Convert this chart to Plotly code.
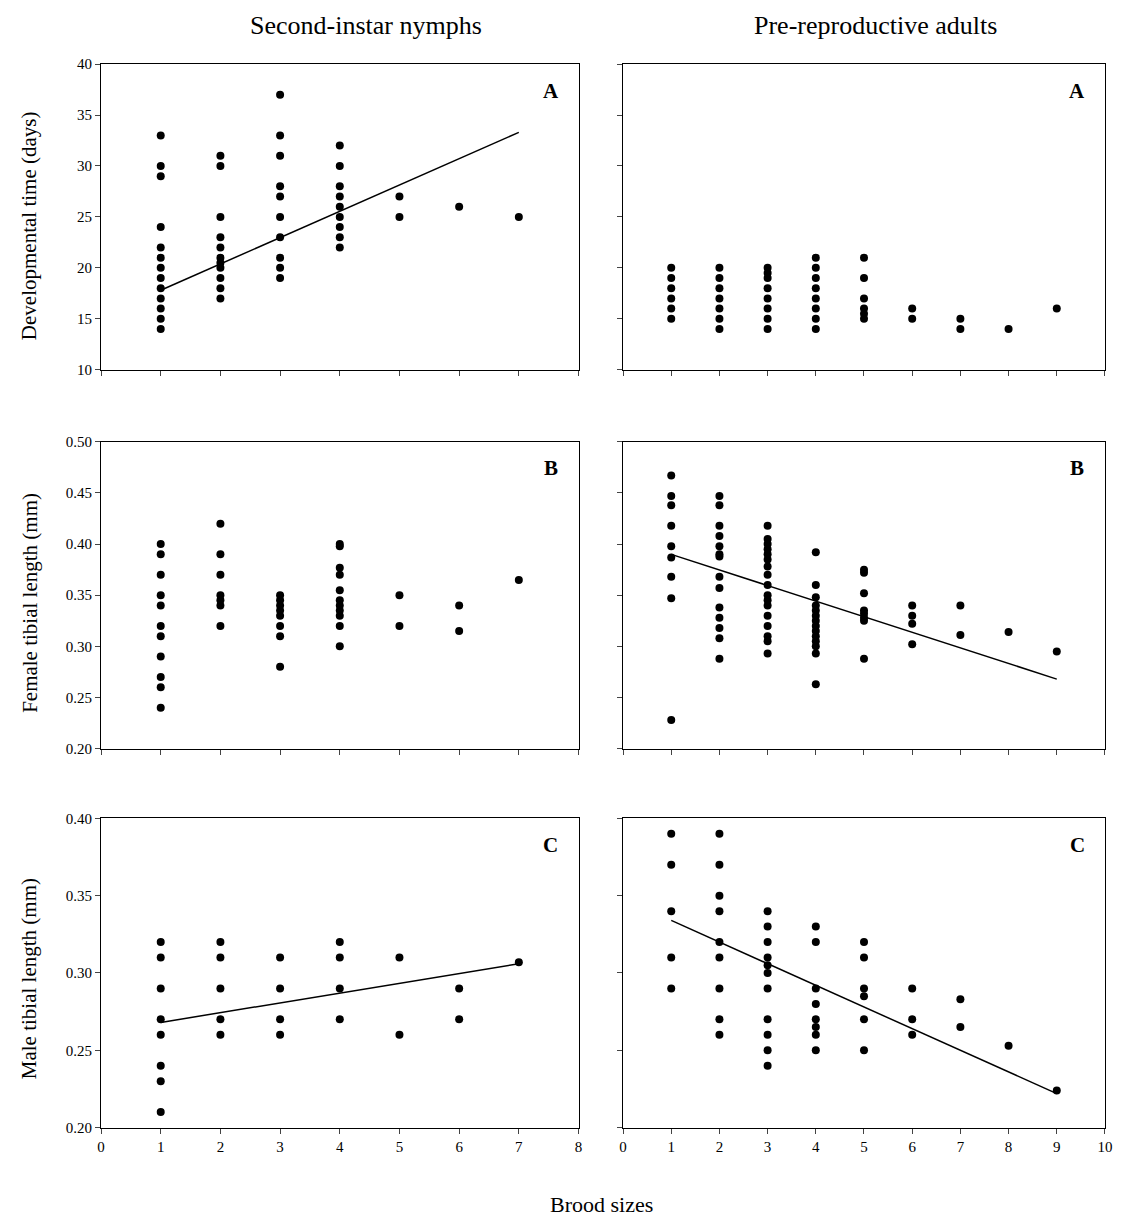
import plotly.graph_objects as go
from plotly.subplots import make_subplots

# ---- data ----
nA_x = [1]*13 + [2]*11 + [3]*10 + [4]*9 + [5]*2 + [6] + [7]
nA_y = [33,30,29,24,22,21,20,19,18,17,16,15,14,
        31,30,25,23,22,21,20.5,20,19,18,17,
        37,33,31,28,27,25,23,21,20,19,
        32,30,28,27,26,25,24,23,22,
        27,25, 26, 25]
aA_x = [1]*6 + [2]*7 + [3]*8 + [4]*8 + [5]*6 + [6]*2 + [7]*2 + [8] + [9]
aA_y = [20,19,18,17,16,15,
        20,19,18,17,16,15,14,
        20,19.5,19,18,17,16,15,14,
        21,20,19,18,17,16,15,14,
        21,19,17,16,15.5,15,
        16,15, 15,14, 14, 16]
nB_x = [1]*11 + [2]*7 + [3]*8 + [4]*11 + [5]*2 + [6]*2 + [7]
nB_y = [0.40,0.39,0.37,0.35,0.34,0.32,0.31,0.29,0.27,0.26,0.24,
        0.42,0.39,0.37,0.35,0.345,0.34,0.32,
        0.35,0.345,0.34,0.335,0.33,0.32,0.31,0.28,
        0.40,0.398,0.377,0.37,0.355,0.345,0.34,0.335,0.33,0.32,0.30,
        0.35,0.32, 0.34,0.315, 0.365]
aB_x = [1]*9 + [2]*14 + [3]*17 + [4]*14 + [5]*8 + [6]*4 + [7]*2 + [8] + [9]
aB_y = [0.467,0.447,0.438,0.418,0.398,0.387,0.368,0.347,0.228,
        0.447,0.438,0.418,0.408,0.398,0.39,0.388,0.368,0.357,0.338,0.328,0.318,0.308,0.288,
        0.418,0.405,0.40,0.395,0.39,0.385,0.378,0.37,0.36,0.35,0.345,0.34,0.33,0.32,0.31,0.305,0.293,
        0.392,0.36,0.348,0.34,0.335,0.33,0.325,0.32,0.315,0.31,0.305,0.30,0.293,0.263,
        0.375,0.372,0.352,0.335,0.332,0.328,0.325,0.288,
        0.34,0.33,0.322,0.302, 0.34,0.311, 0.314, 0.295]
nC_x = [1]*8 + [2]*5 + [3]*4 + [4]*4 + [5]*2 + [6]*2 + [7]
nC_y = [0.32,0.31,0.29,0.27,0.26,0.24,0.23,0.21,
        0.32,0.31,0.29,0.27,0.26,
        0.31,0.29,0.27,0.26,
        0.32,0.31,0.29,0.27,
        0.31,0.26, 0.29,0.27, 0.307]
aC_x = [1]*5 + [2]*9 + [3]*11 + [4]*8 + [5]*6 + [6]*3 + [7]*2 + [8] + [9]
aC_y = [0.39,0.37,0.34,0.31,0.29,
        0.39,0.37,0.35,0.34,0.32,0.31,0.29,0.27,0.26,
        0.34,0.33,0.32,0.31,0.305,0.30,0.29,0.27,0.26,0.25,0.24,
        0.33,0.32,0.29,0.28,0.27,0.265,0.26,0.25,
        0.32,0.31,0.29,0.285,0.27,0.25,
        0.29,0.27,0.26, 0.283,0.265, 0.253, 0.224]
# regression lines (end points)
nA_line = ([1, 7], [17.8, 33.3])
aB_line = ([1, 9], [0.390, 0.268])
nC_line = ([1, 7], [0.268, 0.306])
aC_line = ([1, 9], [0.334, 0.222])

FONT = "Liberation Serif"
fig = make_subplots(rows=3, cols=2)

panels = [
    (1, 1, nA_x, nA_y, nA_line), (1, 2, aA_x, aA_y, None),
    (2, 1, nB_x, nB_y, None), (2, 2, aB_x, aB_y, aB_line),
    (3, 1, nC_x, nC_y, nC_line), (3, 2, aC_x, aC_y, aC_line),
]
for r, c, xs, ys, line in panels:
    fig.add_trace(go.Scatter(x=xs, y=ys, mode="markers",
                             marker=dict(color="black", size=8)), row=r, col=c)
    if line:
        fig.add_trace(go.Scatter(x=line[0], y=line[1], mode="lines",
                                 line=dict(color="black", width=1.5)), row=r, col=c)

xdom = {1: [0.080, 0.509], 2: [0.549, 0.982]}
ydom = {1: [0.706, 0.960], 2: [0.391, 0.646], 3: [0.076, 0.333]}
yr = {1: [10, 40, 5, "%d"], 2: [0.2, 0.5, 0.05, ".2f"], 3: [0.2, 0.4, 0.05, ".2f"]}
for r in (1, 2, 3):
    for c in (1, 2):
        xmax = 8 if c == 1 else 10
        fig.update_xaxes(domain=xdom[c], range=[0, xmax], dtick=1, ticks="outside",
                         showticklabels=(r == 3), showgrid=False, zeroline=False,
                         showline=True, mirror=True, linecolor="black", ticklen=5,
                         row=r, col=c)
        fig.update_yaxes(domain=ydom[r], range=yr[r][:2], dtick=yr[r][2],
                         tickformat=yr[r][3], ticks="outside",
                         showticklabels=(c == 1), showgrid=False, zeroline=False,
                         showline=True, mirror=True, linecolor="black", ticklen=5,
                         row=r, col=c)

ann = [
    dict(x=0.318, y=0.992, text="Second-instar nymphs", size=26),
    dict(x=0.776, y=0.992, text="Pre-reproductive adults", size=26),
    dict(x=0.530, y=0.012, text="Brood sizes", size=22),
]
for a in ann:
    fig.add_annotation(x=a["x"], y=a["y"], xref="paper", yref="paper", text=a["text"],
                       xanchor="center", yanchor="middle",
                       showarrow=False, font=dict(size=a["size"], family=FONT, color="black"))
for lbl, yy in [("Developmental time (days)", 0.826), ("Female tibial length (mm)", 0.512),
                ("Male tibial length (mm)", 0.2)]:
    fig.add_annotation(x=0.016, y=yy, xref="paper", yref="paper", text=lbl, textangle=-90,
                       xanchor="center", yanchor="middle",
                       showarrow=False, font=dict(size=21, family=FONT, color="black"))
letters = {1: "A", 2: "B", 3: "C"}
for r in (1, 2, 3):
    for c in (1, 2):
        fig.add_annotation(x=xdom[c][1] - 0.025, y=ydom[r][1] - 0.022, xref="paper", yref="paper",
                           text="<b>%s</b>" % letters[r], showarrow=False,
                           xanchor="center", yanchor="middle",
                           font=dict(size=21, family=FONT, color="black"))

fig.update_layout(width=1124, height=1219, showlegend=False,
                  plot_bgcolor="white", paper_bgcolor="white",
                  margin=dict(l=0, r=0, t=0, b=0),
                  font=dict(family=FONT, size=15, color="black"))
fig.write_html("out.html")
